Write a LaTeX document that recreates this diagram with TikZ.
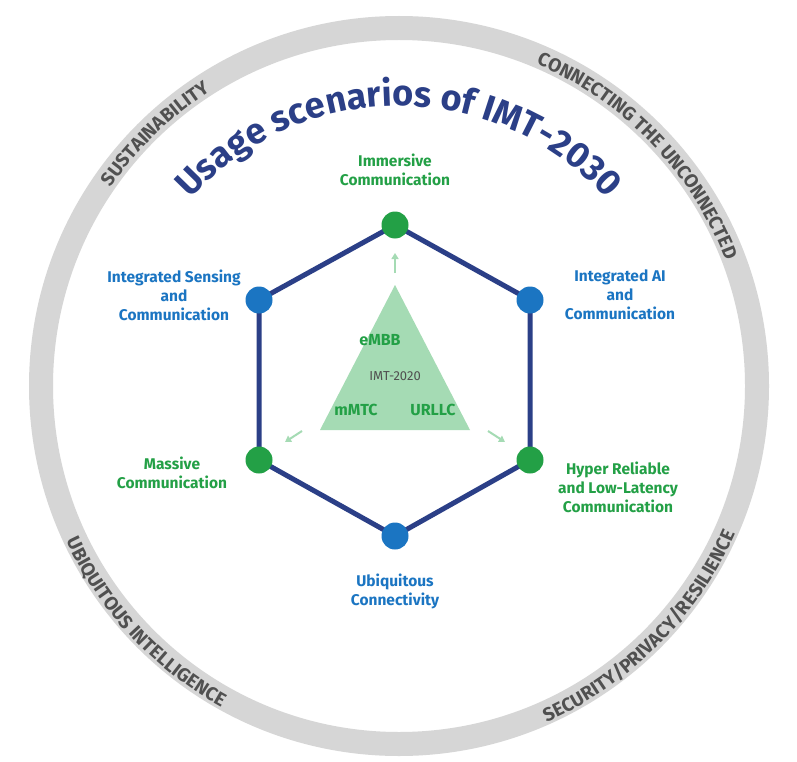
\documentclass[tikz,border=0pt]{standalone}
\usepackage{fontspec}
\setmainfont{Fira Sans}
\usetikzlibrary{decorations.text,arrows.meta}
\definecolor{navy}{HTML}{2B3F87}
\definecolor{gbl}{HTML}{1B75C2}
\definecolor{ggr}{HTML}{23A046}
\definecolor{ltg}{HTML}{A5DBB4}
\definecolor{ring}{HTML}{D6D6D6}
\definecolor{rtxt}{HTML}{505050}
\begin{document}
\begin{tikzpicture}[x=1pt,y=-1pt,
  dot/.style={circle,minimum size=27pt,inner sep=0pt},
  lbl/.style={align=center,font=\fontsize{15.5}{19}\selectfont\bfseries},
  ar/.style={-{Triangle[length=6pt,width=7pt]},ltg,line width=2pt}]
\useasboundingbox (0,0) rectangle (797,762);
\fill[white] (0,0) rectangle (797,762);
\draw[ring,line width=24pt] (399,386) circle (358);
% ring texts
\path[decorate,decoration={text along path,text align=center,
  text={|\fontsize{19}{19}\selectfont\bfseries\color{rtxt}|SUSTAINABILITY}}]
  (399,386) ++(-154:350) arc[start angle=-154,end angle=-114,radius=350];
\path[decorate,decoration={text along path,text align=center,
  text={|\fontsize{19}{19}\selectfont\bfseries\color{rtxt}|CONNECTING THE UNCONNECTED}}]
  (399,386) ++(-80:350) arc[start angle=-80,end angle=-8,radius=350];
\path[decorate,decoration={text along path,text align=center,
  text={|\fontsize{19}{19}\selectfont\bfseries\color{rtxt}|UBIQUITOUS INTELLIGENCE}}]
  (399,386) ++(-190:367) arc[start angle=-190,end angle=-256,radius=367];
\path[decorate,decoration={text along path,text align=center,
  text={|\fontsize{19}{19}\selectfont\bfseries\color{rtxt}|SECURITY/PRIVACY/RESILIENCE}}]
  (399,386) ++(-278:367) arc[start angle=-278,end angle=-352,radius=367];
% title
\path[decorate,decoration={text along path,text align=center,
  text={|\fontsize{36}{36}\selectfont\bfseries\color{navy}|Usage scenarios of IMT-2030}}]
  (399,386) ++(-146:280) arc[start angle=-146,end angle=-34,radius=280];
% triangle
\fill[ltg] (395,285) -- (470,430) -- (320,430) -- cycle;
\node[font=\fontsize{16}{16}\selectfont\bfseries,text=ggr] (e) at (380,340) {eMBB};
\node[font=\fontsize{13}{13}\selectfont,text=rtxt] (i) at (395,376) {IMT-2020};
\node[font=\fontsize{16}{16}\selectfont\bfseries,text=ggr] (m) at (356,410) {mMTC};
\node[font=\fontsize{16}{16}\selectfont\bfseries,text=ggr] (u) at (433,410) {URLLC};
% hexagon
\coordinate (t) at (395,225); \coordinate (ur) at (530,300); \coordinate (lr) at (530,460);
\coordinate (b) at (395,536); \coordinate (ll) at (259,460); \coordinate (ul) at (259,300);
\draw[navy,line width=5pt,line join=round] (t)--(ur)--(lr)--(b)--(ll)--(ul)--cycle;
\node[dot,fill=ggr] (T) at (t) {}; \node[dot,fill=gbl] (UR) at (ur) {};
\node[dot,fill=ggr] (LR) at (lr) {}; \node[dot,fill=gbl] (B) at (b) {};
\node[dot,fill=ggr] (LL) at (ll) {}; \node[dot,fill=gbl] (UL) at (ul) {};
\coordinate (a1) at (395,273); \coordinate (a1e) at (395,253);
\coordinate (a2) at (302,431); \coordinate (a2e) at (285,442);
\coordinate (a3) at (488,431); \coordinate (a3e) at (505,442);
\draw[ar] (a1)--(a1e); \draw[ar] (a2)--(a2e); \draw[ar] (a3)--(a3e);
% labels
\node[lbl,text=ggr] (l1) at (395,170) {Immersive\\Communication};
\node[lbl,text=gbl] (l2) at (174,295) {Integrated Sensing\\and\\Communication};
\node[lbl,text=gbl] (l3) at (620,295) {Integrated AI\\and\\Communication};
\node[lbl,text=ggr] (l4) at (172,473) {Massive\\Communication};
\node[lbl,text=ggr] (l5) at (618,487) {Hyper Reliable\\and Low-Latency\\Communication};
\node[lbl,text=gbl] (l6) at (395,591) {Ubiquitous\\Connectivity};
\end{tikzpicture}
\end{document}
